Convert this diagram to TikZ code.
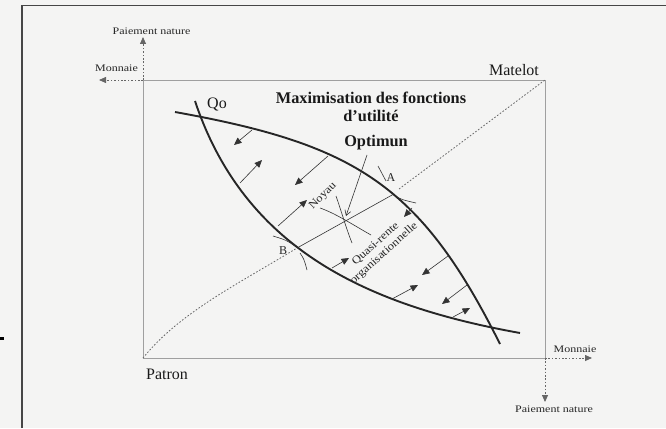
\documentclass[tikz,border=0pt]{standalone}
\usepackage{fontspec}
\setmainfont{Liberation Serif}
\usetikzlibrary{arrows.meta}
\definecolor{bgc}{RGB}{244,244,243}
\begin{document}
\begin{tikzpicture}[x=1pt,y=-1pt,
  thickcurve/.style={line width=1.9pt, black!85},
  thinline/.style={line width=0.6pt, black!80},
  axisline/.style={line width=0.7pt, gray!75},
  dotline/.style={line width=0.8pt, black!60, dash pattern=on 1.6pt off 1.8pt},
  axtip/.style={-{Triangle[length=7pt,width=6pt]}},
  smtip/.style={-{Triangle[length=7.5pt,width=6.5pt]}},
  small/.style={font=\fontsize{10}{12}\selectfont\addfontfeature{FakeStretch=1.2}, text=black!85, inner sep=0pt},
  inlabel/.style={font=\fontsize{11}{12.5}\selectfont\addfontfeature{FakeStretch=1.15}, text=black!85, inner sep=0pt},
  mid/.style={font=\fontsize{12}{13}\selectfont, text=black!85, inner sep=0pt},
  big/.style={font=\fontsize{16}{19}\selectfont, text=black!90, inner sep=0pt},
  bigb/.style={font=\fontsize{16.3}{19}\selectfont\bfseries, text=black!90, inner sep=0pt, align=center},
]
\fill[bgc] (0,0) rectangle (666,428);
\useasboundingbox (0,0) rectangle (666,428);

% outer frame
\draw[line width=1.8pt, gray!55!black] (22,428) -- (22,5.5) -- (666,5.5);
\fill[black] (0,337) rectangle (4,340);

% corners
\coordinate (P) at (143,358);
\coordinate (M) at (545,80);
\coordinate (TL) at (143,80);
\coordinate (BR) at (545,358);
\coordinate (ytop) at (143,37);
\coordinate (xleft) at (99,80);
\coordinate (xright) at (592,358);
\coordinate (ybot) at (545,402);

\draw[axisline] (P) rectangle (M);
\draw[dotline, axtip] (TL) -- (ytop);
\draw[dotline, axtip] (TL) -- (xleft);
\draw[dotline, axtip] (BR) -- (xright);
\draw[dotline, axtip] (BR) -- (ybot);

% labels of axes
\node[small] (pn1) at (151.5,31) {Paiement nature};
\node[small] (mo1) at (116.5,68) {Monnaie};
\node[small] (mo2) at (575,349) {Monnaie};
\node[small] (pn2) at (554,409) {Paiement nature};
\node[big] (mat) at (514,70) {Matelot};
\node[big] (pat) at (167,374) {Patron};

% thick curves
\draw[thickcurve] (175,112) .. controls (355,144.4) and (420,184) .. (500,344);
\draw[thickcurve] (195,101) .. controls (245,251) and (370,306) .. (520,333);

% contract curve
\coordinate (B) at (297,248);
\coordinate (A) at (393,194.5);
\coordinate (Ad) at (399,189);
\draw[dotline] (P) .. controls (180,312) and (240,283) .. (B);
\draw[thinline] (B) -- (A);
\draw[dotline] (Ad) -- (M);

% arrows from curve 1 (inward)
\coordinate (a1s) at (252,130);   \coordinate (a1e) at (234,145);
\coordinate (a2s) at (328,156);   \coordinate (a2e) at (295,185);
\coordinate (a3s) at (412,208);   \coordinate (a3e) at (404,217);
\coordinate (a4s) at (448,256);   \coordinate (a4e) at (422,275);
\coordinate (a5s) at (467,285);   \coordinate (a5e) at (442,304);
\foreach \i in {1,...,5} {\draw[thinline, smtip] (a\i s) -- (a\i e);}
% arrows from curve 2 (inward)
\coordinate (b1s) at (240,183);   \coordinate (b1e) at (262,160);
\coordinate (b2s) at (278,226);   \coordinate (b2e) at (307,200);
\coordinate (b3s) at (332,268);   \coordinate (b3e) at (349,258);
\coordinate (b4s) at (392,299);   \coordinate (b4e) at (418,285);
\coordinate (b5s) at (453,317);   \coordinate (b5e) at (470,308);
\foreach \i in {1,...,5} {\draw[thinline, smtip] (b\i s) -- (b\i e);}

% tangency marks
\draw[thinline] (378,166) -- (386,181);
\draw[thinline] (397,197) .. controls (403,200) .. (416,203);
\draw[thinline] (273,236) .. controls (286,240) .. (295,246);
\draw[thinline] (300,253) .. controls (304,259) .. (307,270);

% optimum cross
\coordinate (O) at (344,220);
\draw[thinline] (320,208) .. controls (335,213) and (355,226) .. (371,235);
\draw[thinline] (336,196) .. controls (341,210) and (346,228) .. (352,243);

% texts
\node[bigb] (title) at (371,107) {Maximisation des fonctions\\[-1pt]d'utilité};
\node[bigb] (opt) at (376,143) {Optimun};
\coordinate (optfoot) at (367,155);
\draw[thinline, -{Straight Barb[length=5pt,width=6pt]}] (optfoot) -- (346,216);
\node[big] (qo) at (217,104) {Qo};
\node[mid] (la) at (391,178) {A};
\node[mid] (lb) at (283,251) {B};
\node[inlabel, rotate=45] (noy) at (323,196) {Noyau};
\node[inlabel, rotate=42, align=center] (qr) at (380,249) {Quasi-rente\\organisationnelle};
\end{tikzpicture}
\end{document}
